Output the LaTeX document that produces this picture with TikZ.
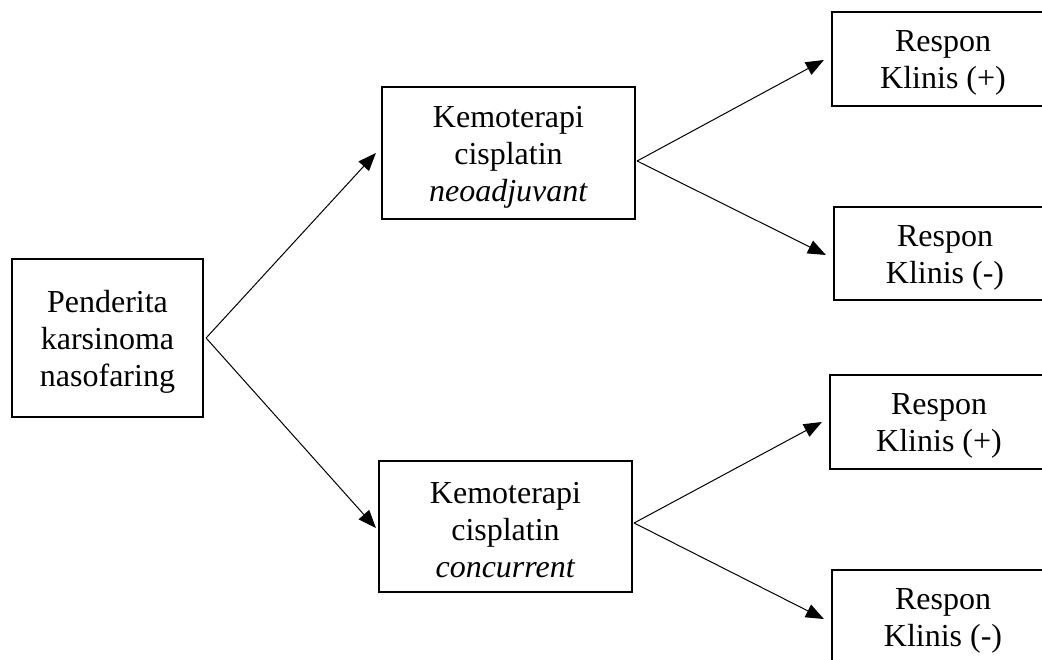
\documentclass[tikz,border=0pt]{standalone}
\usepackage{fontspec}
\setmainfont{Liberation Serif}
\usetikzlibrary{arrows.meta}
\begin{document}
\begin{tikzpicture}[x=1pt,y=-1pt,
  box/.style={draw,line width=2.2pt,inner sep=0pt},
  txt/.style={align=center,inner sep=0pt,font=\fontsize{32}{37}\selectfont},
  arr/.style={line width=1pt,-{Triangle[length=18pt,width=14pt]}}]
\useasboundingbox (0,0) rectangle (1042,660);
\clip (0,0) rectangle (1042,660);
\fill[white] (0,0) rectangle (1042,660);
\node[box,minimum width=191pt,minimum height=158pt] (pend) at (107.5,338) {};
\node[box,minimum width=253pt,minimum height=132pt] (neo) at (508.5,153) {};
\node[box,minimum width=253pt,minimum height=131pt] (conc) at (505.5,526.5) {};
\node[box,minimum width=222pt,minimum height=94pt] (r1) at (943,59) {};
\node[box,minimum width=222pt,minimum height=93pt] (r2) at (945,253.5) {};
\node[box,minimum width=218pt,minimum height=94pt] (r3) at (939,422) {};
\node[box,minimum width=222pt,minimum height=94pt] (r4) at (943,617) {};
\node[txt] (pendt) at ([yshift=-4pt]pend.center) {Penderita\\karsinoma\\nasofaring};
\node[txt] (neot) at ([yshift=-4pt]neo.center) {Kemoterapi\\cisplatin\\\textit{neoadjuvant}};
\node[txt] (conct) at ([yshift=-4pt]conc.center) {Kemoterapi\\cisplatin\\\textit{concurrent}};
\node[txt] (r1t) at ([yshift=-4pt]r1.center) {Respon\\Klinis (+)};
\node[txt] (r2t) at ([yshift=-4pt]r2.center) {Respon\\Klinis (-)};
\node[txt] (r3t) at ([yshift=-4pt]r3.center) {Respon\\Klinis (+)};
\node[txt] (r4t) at ([yshift=-4pt]r4.center) {Respon\\Klinis (-)};
\coordinate (j1) at ([xshift=2pt]pend.east);
\coordinate (j2) at ([xshift=1pt,yshift=-8pt]neo.east);
\coordinate (j3) at ([xshift=1pt,yshift=3.5pt]conc.east);
\draw[arr] (j1) -- ([xshift=-5pt]neo.west);
\draw[arr] (j1) -- ([xshift=-2pt,yshift=-1.5pt]conc.west);
\draw[arr] (j2) -- ([xshift=-7pt,yshift=-1pt]r1.west);
\draw[arr] (j2) -- ([xshift=-7pt,yshift=-1.5pt]r2.west);
\draw[arr] (j3) -- ([xshift=-7pt]r3.west);
\draw[arr] (j3) -- ([xshift=-7pt,yshift=-2pt]r4.west);
\end{tikzpicture}
\end{document}
